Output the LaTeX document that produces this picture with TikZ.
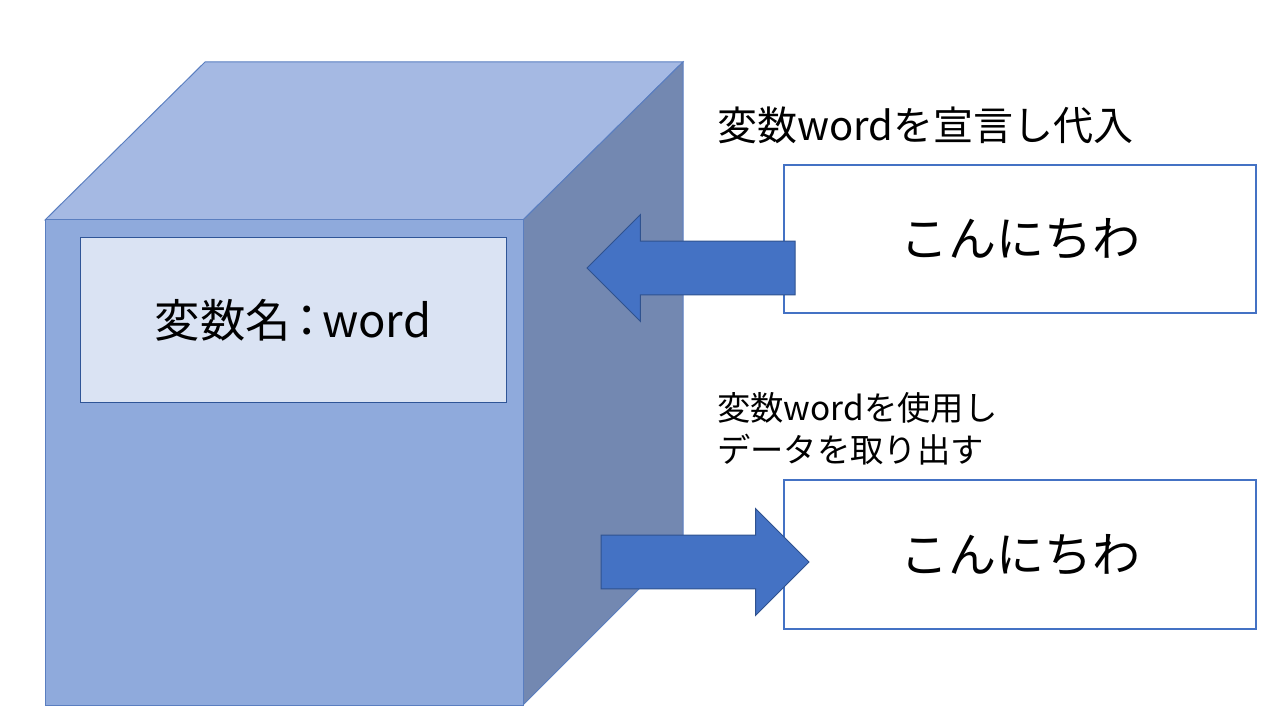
\documentclass[tikz,border=0pt]{standalone}
\usepackage{fontspec}
\setmainfont{Noto Sans CJK JP}
\usepackage{tikz}
\usetikzlibrary{shapes.arrows,positioning}
\definecolor{cubetop}{HTML}{A5B9E3}
\definecolor{cubefront}{HTML}{8FAADC}
\definecolor{cubeside}{HTML}{7388B1}
\definecolor{cubeline}{HTML}{5A7EC0}
\definecolor{namefill}{HTML}{DAE3F3}
\definecolor{nameline}{HTML}{2F5597}
\definecolor{accent}{HTML}{4472C4}
\definecolor{accentdk}{HTML}{2F528F}
\tikzset{
  face/.style={fill=#1, draw=cubeline, line width=0.75pt, line join=miter},
  valbox/.style={rectangle, draw=accent, line width=2pt, fill=white, inner sep=0pt,
                 minimum width=354pt, minimum height=111pt, font=\fontsize{36}{43}\selectfont},
  namebox/.style={rectangle, draw=nameline, line width=0.75pt, fill=namefill, inner sep=0pt,
                  minimum width=319.5pt, minimum height=123pt, font=\fontsize{34}{41}\selectfont},
  blockarr/.style={single arrow, fill=accent, draw=accentdk, line width=0.75pt,
                   inner xsep=0pt, inner ysep=19.7pt, outer sep=0pt, single arrow tip angle=90,
                   single arrow head extend=19.9pt, minimum height=156pt, shape border rotate=#1},
  note/.style={inner sep=0pt, anchor=west, align=left},
}
\begin{document}
\begin{tikzpicture}[x=0.75pt, y=-0.75pt]
    \useasboundingbox (0,0) rectangle (1280,720);
    \coordinate (fl) at (45,220);  \coordinate (fr) at (523,220);
    \coordinate (bl) at (205,62);  \coordinate (br) at (683,62);
    \coordinate (dl) at (45,705);  \coordinate (dr) at (523,705);
    \coordinate (sb) at (683,545);
    \draw[face=cubetop] (fl) -- (bl) -- (br) -- (fr) -- cycle;
    \draw[face=cubeside] (fr) -- (br) -- (sb) -- (dr) -- cycle;
    \draw[face=cubefront] (fl) -- (fr) -- (dr) -- (dl) -- cycle;
    \node[namebox] (name) at (293,320) {変数名\hspace{-0.15em}：\hspace{-0.16em}word};

    \node[valbox] (set) at (1020,239) {こんにちわ};
    \node[valbox, minimum height=111.75pt] (get) at (1020,554.5) {こんにちわ};
    \node[blockarr=180, anchor=tail] (in) at (795,268) {};
    \node[blockarr=0, anchor=tail] (out) at (601,562) {};

    \node[note, font=\fontsize{30}{36}\selectfont] (setlbl) at (717,125) {変数wordを宣言し代入};
    \node[note, font=\fontsize{25}{31.5}\selectfont] (getlbl) at (717,429)
      {変数wordを使用し\\データを取り出す};
\end{tikzpicture}
\end{document}
